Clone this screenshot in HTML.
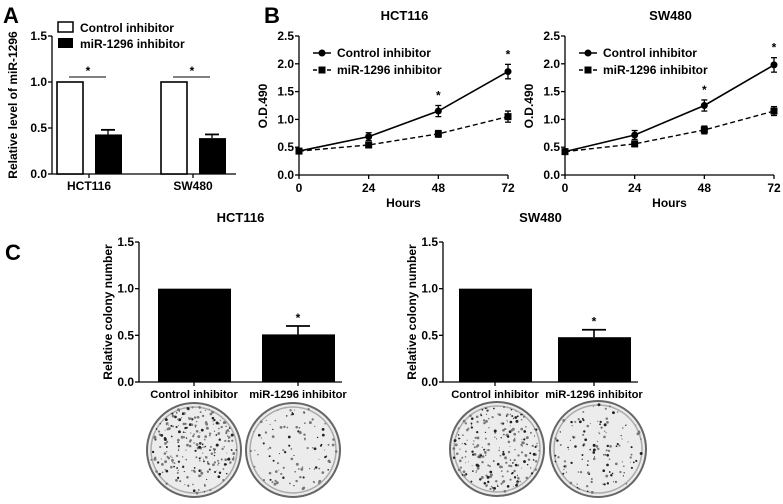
<!DOCTYPE html>
<html><head><meta charset="utf-8"><style>
body{margin:0;background:#fff;width:783px;height:499px;overflow:hidden}
svg{font-family:"Liberation Sans",Arial,sans-serif;font-weight:bold}
</style></head><body>
<svg id="s" width="783" height="499" viewBox="0 0 783 499"></svg>
<script>
// Panel A data
const aGroups=["HCT116","SW480"];
const aControl=[1.0,1.0];
const aInhib=[0.43,0.39];
const aInhibErr=[0.05,0.04];
const aTicks=[0,0.5,1.0,1.5];
// Panel B data
const bHours=[0,24,48,72];
const bHctCtrl=[0.43,0.69,1.15,1.86];
const bHctCtrlErr=[0.04,0.07,0.1,0.13];
const bHctInh=[0.43,0.54,0.74,1.05];
const bHctInhErr=[0.04,0.05,0.06,0.1];
const bSwCtrl=[0.42,0.72,1.25,1.98];
const bSwCtrlErr=[0.04,0.08,0.1,0.13];
const bSwInh=[0.42,0.56,0.81,1.15];
const bSwInhErr=[0.04,0.05,0.07,0.08];
const bTicks=[0,0.5,1.0,1.5,2.0,2.5];
const bStars=[false,false,true,true];
// Panel C data
const cCats=["Control inhibitor","miR-1296 inhibitor"];
const cHct=[1.0,0.51];
const cHctErr=[0,0.09];
const cSw=[1.0,0.48];
const cSwErr=[0,0.08];
const cTicks=[0,0.5,1.0,1.5];

const S=document.getElementById('s');const NS="http://www.w3.org/2000/svg";
function el(t,a,name,txt){const e=document.createElementNS(NS,t);for(const k in a)e.setAttribute(k,a[k]);


if(txt!==undefined)e.textContent=txt;S.appendChild(e);return e;}
function line(x1,y1,x2,y2,n,w,dash){return el('line',{x1,y1,x2,y2,stroke:'#000','stroke-width':w||1.3,'stroke-dasharray':dash||'none'},n);}
function text(x,y,t,n,size,anchor,extra){const a={x,y,'font-size':size||12,'text-anchor':anchor||'middle'};Object.assign(a,extra||{});return el('text',a,n,t);}
function yAxis(x,y0,y1,ticks,max,fmt,name){const sc=v=>y0-(v/max)*(y0-y1);line(x,y0,x,y1,name+'-line');
ticks.forEach(t=>{line(x-4,sc(t),x,sc(t),name+'-tick');text(x-5,sc(t)+4,t.toFixed(1),name+'-label',12,'end');});return sc;}

// Panel A
text(3,23,"A","panel-label-a",22,'start');
{const ys=yAxis(52,174,36,aTicks,1.5,null,'a-y-axis');line(52,174,236,174,'a-x-axis');
const cx=[89,193];
aGroups.forEach((g,i)=>{const c=cx[i];
el('rect',{x:c-32,y:ys(aControl[i]),width:26,height:174-ys(aControl[i]),fill:'#fff',stroke:'#000','stroke-width':1.6},'a-bar-control-'+g);
el('rect',{x:c+6,y:ys(aInhib[i]),width:27,height:174-ys(aInhib[i]),fill:'#000'},'a-bar-inhibitor-'+g);
line(c+19,ys(aInhib[i]+aInhibErr[i]),c+19,ys(aInhib[i]),'a-error');line(c+12,ys(aInhib[i]+aInhibErr[i]),c+26,ys(aInhib[i]+aInhibErr[i]),'a-error-cap',1.8);
line(c-20,77,c+17,77,'a-sig-bar',1);text(c-1,75,'*','a-sig-star',12);
line(c,174,c,178,'a-x-tick');text(c,190,g,'a-x-label',12);});
text(17,105,"Relative level of miR-1296",'a-y-axis-title',12,'middle',{transform:'rotate(-90 17 105)'});
el('rect',{x:58,y:22,width:15,height:10,fill:'#fff',stroke:'#000','stroke-width':1.5},'a-legend-swatch-control');
text(80,32,"Control inhibitor",'a-legend-control',12,'start');
el('rect',{x:58,y:38,width:15,height:10,fill:'#000'},'a-legend-swatch-inhibitor');
text(80,48,"miR-1296 inhibitor",'a-legend-inhibitor',12,'start');}

// Panel B
text(264,23,"B","panel-label-b",22,'start');
function lineChart(ax,axEnd,title,ctrl,ce,inh,ie,pre){
const ys=yAxis(ax,175,36,bTicks,2.5,null,pre+'-y-axis');line(ax,175,axEnd,175,pre+'-x-axis');
const xs=h=>ax+(h/72)*(axEnd-ax);
bHours.forEach(h=>{line(xs(h),175,xs(h),179,pre+'-x-tick');text(xs(h),192,h,pre+'-x-label',12);});
text((ax+axEnd)/2+1,20,title,pre+'-title',13);text((ax+axEnd)/2,207,"Hours",pre+'-x-axis-title',12);
text(ax-32,106,"O.D.490",pre+'-y-axis-title',12,'middle',{transform:'rotate(-90 '+(ax-32)+' 106)'});
el('polyline',{points:inh.map((v,i)=>xs(bHours[i])+','+ys(v)).join(' '),fill:'none',stroke:'#000','stroke-width':1.4,'stroke-dasharray':'5,3'},pre+'-line-inhibitor');
el('polyline',{points:ctrl.map((v,i)=>xs(bHours[i])+','+ys(v)).join(' '),fill:'none',stroke:'#000','stroke-width':1.6},pre+'-line-control');
bHours.forEach((h,i)=>{const x=xs(h);
[[ctrl[i],ce[i]],[inh[i],ie[i]]].forEach(([v,e],k)=>{line(x,ys(v-e),x,ys(v+e),pre+'-error');line(x-3,ys(v+e),x+3,ys(v+e),pre+'-error-cap');line(x-3,ys(v-e),x+3,ys(v-e),pre+'-error-cap');
if(k==0)el('circle',{cx:x,cy:ys(v),r:3.5,fill:'#000'},pre+'-point-control');else el('rect',{x:x-3.5,y:ys(v)-3.5,width:7,height:7,fill:'#000'},pre+'-point-inhibitor');});
if(bStars[i])text(x,ys(ctrl[i]+ce[i])-6,'*',pre+'-sig-star',12);});
line(ax+14,53,ax+32,53,pre+'-legend-line-control',1.6);el('circle',{cx:ax+23,cy:53,r:3.5,fill:'#000'},pre+'-legend-marker-control');
text(ax+38,57,"Control inhibitor",pre+'-legend-control',12,'start');
line(ax+14,70,ax+32,70,pre+'-legend-line-inhibitor',1.4,'4,3');el('rect',{x:ax+19.5,y:66.5,width:7,height:7,fill:'#000'},pre+'-legend-marker-inhibitor');
text(ax+38,74,"miR-1296 inhibitor",pre+'-legend-inhibitor',12,'start');}
lineChart(299,508,"HCT116",bHctCtrl,bHctCtrlErr,bHctInh,bHctInhErr,'b-hct116');
lineChart(565,774,"SW480",bSwCtrl,bSwCtrlErr,bSwInh,bSwInhErr,'b-sw480');

// Panel C
text(5,260,"C","panel-label-c",22,'start');
function barChart(ax,bx,title,vals,errs,pre){
const ys=yAxis(ax,382,242,cTicks,1.5,null,pre+'-y-axis');line(ax,382,bx[1]+80,382,pre+'-x-axis');
text((ax+bx[1]+80)/2,222,title,pre+'-title',13);
text(ax-27,312,"Relative colony number",pre+'-y-axis-title',12,'middle',{transform:'rotate(-90 '+(ax-27)+' 312)'});
cCats.forEach((c,i)=>{const x=bx[i];
el('rect',{x:x,y:ys(vals[i]),width:73,height:382-ys(vals[i]),fill:'#000'},pre+'-bar-'+i);
line(x+36,382,x+36,386,pre+'-x-tick');text(x+36,398,c,pre+'-x-label',11.2);
if(errs[i]>0){line(x+36,ys(vals[i]),x+36,ys(vals[i]+errs[i]),pre+'-error',1.6);line(x+24,ys(vals[i]+errs[i]),x+48,ys(vals[i]+errs[i]),pre+'-error-cap',1.8);
text(x+36,ys(vals[i]+errs[i])-4,'*',pre+'-sig-star',12);}});}
barChart(139,[158,262],"HCT116",cHct,cHctErr,'c-hct116');
barChart(443,[459,558],"SW480",cSw,cSwErr,'c-sw480');

// Dishes
let seed=7;function rnd(){seed=(seed*16807)%2147483647;return seed/2147483647;}
function dish(cx,cy,r,n,name){el('circle',{cx,cy,r,fill:'#ececec',stroke:'#666','stroke-width':2},name);
el('circle',{cx,cy,r:r-4,fill:'none',stroke:'#aaa','stroke-width':1.5},name+'-rim');
for(let i=0;i<n;i++){const a=rnd()*6.283,d=Math.sqrt(rnd())*(r-3);const s=0.5+rnd()*1.0;
el('circle',{cx:cx+d*Math.cos(a),cy:cy+d*Math.sin(a),r:s,fill:rnd()<0.4?'#222':'#777'},name+'-colony');}}
dish(194,450,47,260,'dish-hct116-control');
dish(293,450,47,110,'dish-hct116-inhibitor');
dish(497,449,47,240,'dish-sw480-control');
dish(598,449,48,130,'dish-sw480-inhibitor');
</script>
</body></html>
